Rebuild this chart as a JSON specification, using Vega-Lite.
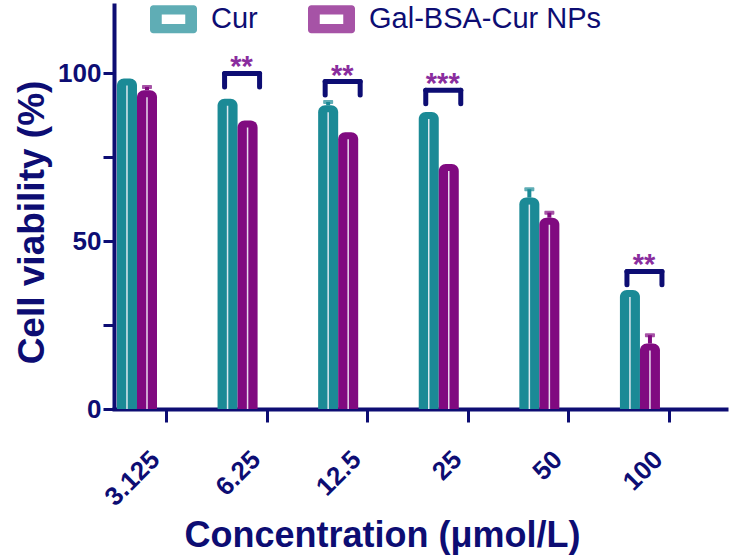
{
  "$schema": "https://vega.github.io/schema/vega-lite/v6.json",
  "width": 612,
  "height": 406,
  "autosize": "none",
  "padding": {"left": 114, "top": 3, "right": 9, "bottom": 151},
  "background": "white",
  "config": {
    "view": {"stroke": null},
    "font": "Liberation Sans"
  },
  "datasets": {
    "bars": [
      {"conc": "3.125", "group": "Cur", "value": 98.5},
      {"conc": "3.125", "group": "Gal-BSA-Cur NPs", "value": 95},
      {"conc": "6.25", "group": "Cur", "value": 92.5},
      {"conc": "6.25", "group": "Gal-BSA-Cur NPs", "value": 86},
      {"conc": "12.5", "group": "Cur", "value": 90.5},
      {"conc": "12.5", "group": "Gal-BSA-Cur NPs", "value": 82.5},
      {"conc": "25", "group": "Cur", "value": 88.5},
      {"conc": "25", "group": "Gal-BSA-Cur NPs", "value": 73},
      {"conc": "50", "group": "Cur", "value": 63},
      {"conc": "50", "group": "Gal-BSA-Cur NPs", "value": 57},
      {"conc": "100", "group": "Cur", "value": 35.5},
      {"conc": "100", "group": "Gal-BSA-Cur NPs", "value": 19.5}
    ],
    "errs": [
      {"conc": "3.125", "group": "Gal-BSA-Cur NPs", "value": 95, "hi": 96},
      {"conc": "12.5", "group": "Cur", "value": 90.5, "hi": 91.5},
      {"conc": "50", "group": "Cur", "value": 63, "hi": 65.5},
      {"conc": "50", "group": "Gal-BSA-Cur NPs", "value": 57, "hi": 58.5},
      {"conc": "100", "group": "Gal-BSA-Cur NPs", "value": 19.5, "hi": 22}
    ],
    "sig": [
      {"conc": "6.25", "top": 100, "bottom": 96, "stars": "**"},
      {"conc": "12.5", "top": 97.6, "bottom": 93.6, "stars": "**"},
      {"conc": "25", "top": 95, "bottom": 91, "stars": "***"},
      {"conc": "100", "top": 41, "bottom": 37, "stars": "**"}
    ]
  },
  "layer": [
    {
      "data": {"name": "bars"},
      "mark": {"type": "bar", "cornerRadiusTopLeft": 7, "cornerRadiusTopRight": 7},
      "encoding": {
        "x": {
          "field": "conc", "type": "nominal", "sort": ["3.125", "6.25", "12.5", "25", "50", "100"],
          "scale": {"paddingInner": 0.602, "paddingOuter": 0.343, "align": 0.043},
          "axis": {
            "title": "Concentration (μmol/L)",
            "bandPosition": 1,
            "tickOffset": 9,
            "domainColor": "#0d0d73", "domainWidth": 4, "domainCap": "square",
            "tickColor": "#0d0d73", "tickWidth": 3, "tickSize": 13,
            "labelAngle": -45, "labelFont": "Liberation Sans", "labelFontWeight": "bold",
            "labelFontSize": 26, "labelColor": "#0d0d73", "labelPadding": 24,
            "titleFont": "Liberation Sans", "titleFontWeight": "bold", "titleFontSize": 36,
            "titleColor": "#0d0d73", "titleX": 268, "titleY": 126, "titleBaseline": "middle"
          }
        },
        "xOffset": {"field": "group", "type": "nominal", "scale": {"paddingInner": 0, "paddingOuter": 0}},
        "y": {
          "field": "value", "type": "quantitative", "stack": null,
          "scale": {"domain": [0, 121], "nice": false},
          "axis": {
            "title": "Cell viability (%)",
            "values": [0, 25, 50, 75, 100],
            "labelExpr": "datum.value % 50 === 0 ? datum.label : ''",
            "grid": false,
            "domainColor": "#0d0d73", "domainWidth": 4,
            "tickColor": "#0d0d73", "tickWidth": 3, "tickSize": 11,
            "labelFont": "Liberation Sans", "labelFontWeight": "bold", "labelFontSize": 26,
            "labelColor": "#0d0d73", "labelPadding": 2,
            "titleFont": "Liberation Sans", "titleFontWeight": "bold", "titleFontSize": 37,
            "titleColor": "#0d0d73", "titleX": -82, "titleY": 219, "titleBaseline": "middle"
          }
        },
        "color": {
          "field": "group", "type": "nominal",
          "scale": {"domain": ["Cur", "Gal-BSA-Cur NPs"], "range": ["#1b8a96", "#800a80"]},
          "legend": {
            "title": null,
            "orient": "none",
            "direction": "horizontal",
            "legendX": 36,
            "legendY": -7.5,
            "symbolType": "M-0.86,-0.6H0.86A0.14,0.14 0 0 1 1,-0.46V0.46A0.14,0.14 0 0 1 0.86,0.6H-0.86A0.14,0.14 0 0 1 -1,0.46V-0.46A0.14,0.14 0 0 1 -0.86,-0.6ZM-0.5,-0.2V0.2H0.5V-0.2Z",
            "symbolSize": 2209,
            "symbolStrokeWidth": 0,
            "symbolOpacity": 1,
            "labelFont": "Liberation Sans", "labelFontSize": 29, "labelColor": "#0d0d73",
            "labelOffset": 14, "columnPadding": 50, "labelLimit": 500, "padding": 0
          }
        }
      }
    },
    {
      "data": {"name": "bars"},
      "mark": {"type": "bar", "width": 1.5, "yOffset": 7, "color": "#f2f2f8", "opacity": 0.9},
      "encoding": {
        "x": {"field": "conc", "type": "nominal", "sort": ["3.125", "6.25", "12.5", "25", "50", "100"]},
        "xOffset": {"field": "group", "type": "nominal"},
        "y": {"field": "value", "type": "quantitative", "stack": null},
        "y2": {"datum": 0}
      }
    },
    {
      "data": {"name": "errs"},
      "mark": {"type": "rule", "strokeWidth": 4},
      "encoding": {
        "x": {"field": "conc", "type": "nominal", "sort": ["3.125", "6.25", "12.5", "25", "50", "100"]},
        "xOffset": {"field": "group", "type": "nominal"},
        "y": {"field": "value", "type": "quantitative"},
        "y2": {"field": "hi"},
        "color": {"field": "group", "type": "nominal"}
      }
    },
    {
      "data": {"name": "errs"},
      "mark": {"type": "tick", "thickness": 4, "size": 10, "cornerRadius": 1},
      "encoding": {
        "x": {"field": "conc", "type": "nominal", "sort": ["3.125", "6.25", "12.5", "25", "50", "100"]},
        "xOffset": {"field": "group", "type": "nominal"},
        "y": {"field": "hi", "type": "quantitative"},
        "color": {"field": "group", "type": "nominal"}
      }
    },
    {
      "data": {"name": "sig"},
      "mark": {"type": "rule", "strokeWidth": 5, "color": "#0d0d73", "strokeCap": "round", "xOffset": -13, "x2Offset": 22},
      "encoding": {
        "x": {"field": "conc", "type": "nominal", "sort": ["3.125", "6.25", "12.5", "25", "50", "100"]},
        "x2": {"field": "conc"},
        "y": {"field": "top", "type": "quantitative"}
      }
    },
    {
      "data": {"name": "sig"},
      "mark": {"type": "rule", "strokeWidth": 5, "color": "#0d0d73", "strokeCap": "round", "xOffset": -13},
      "encoding": {
        "x": {"field": "conc", "type": "nominal", "sort": ["3.125", "6.25", "12.5", "25", "50", "100"]},
        "y": {"field": "top", "type": "quantitative"},
        "y2": {"field": "bottom"}
      }
    },
    {
      "data": {"name": "sig"},
      "mark": {"type": "rule", "strokeWidth": 5, "color": "#0d0d73", "strokeCap": "round", "xOffset": 22},
      "encoding": {
        "x": {"field": "conc", "type": "nominal", "sort": ["3.125", "6.25", "12.5", "25", "50", "100"]},
        "y": {"field": "top", "type": "quantitative"},
        "y2": {"field": "bottom"}
      }
    },
    {
      "data": {"name": "sig"},
      "mark": {"type": "text", "font": "Liberation Sans", "fontWeight": "bold", "fontSize": 29, "color": "#8a2d9e", "dx": 4, "dy": 3, "baseline": "alphabetic", "align": "center"},
      "encoding": {
        "x": {"field": "conc", "type": "nominal", "sort": ["3.125", "6.25", "12.5", "25", "50", "100"]},
        "y": {"field": "top", "type": "quantitative"},
        "text": {"field": "stars"}
      }
    }
  ]
}
